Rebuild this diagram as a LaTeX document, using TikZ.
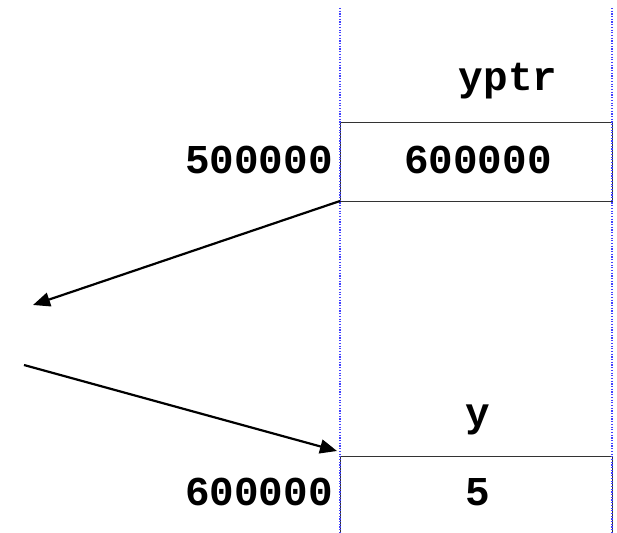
\documentclass[tikz,border=0pt]{standalone}
\usepackage{fontspec}
\setmainfont{Liberation Mono}
\usetikzlibrary{arrows.meta}
\begin{document}
\begin{tikzpicture}[x=1pt,y=-1pt,
  lbl/.style={font=\fontsize{41}{41}\selectfont\bfseries, inner sep=0pt},
  cell/.style={draw=black!80, line width=1pt},
  guide/.style={draw=blue!75, dash pattern=on 1.2pt off 1.5pt, line width=1.2pt},
  ptr/.style={draw=black, line width=2.2pt, -{Triangle[length=17pt,width=14pt]}}]
\useasboundingbox (0,0) rectangle (617,532);
\draw[cell] (340,122) rectangle (612,201);
\draw[cell] (340,456) rectangle (612,540);
\draw[guide] (340,8) -- (340,532);
\draw[guide] (612,8) -- (612,532);
\coordinate (c1) at (340,201);
\coordinate (e1) at (33,305);
\coordinate (s2) at (24,365);
\coordinate (e2) at (337,451);
\node[lbl] (yptr) at (508,81) {yptr};
\node[lbl] (v1) at (478,160) {600000};
\node[lbl,anchor=east] (a1) at (333,160) {500000};
\node[lbl] (yname) at (478,420) {y};
\node[lbl] (v2) at (478,492) {5};
\node[lbl,anchor=east] (a2) at (333,492) {600000};
\draw[ptr] (c1) -- (e1);
\draw[ptr] (s2) -- (e2);
\end{tikzpicture}
\end{document}
